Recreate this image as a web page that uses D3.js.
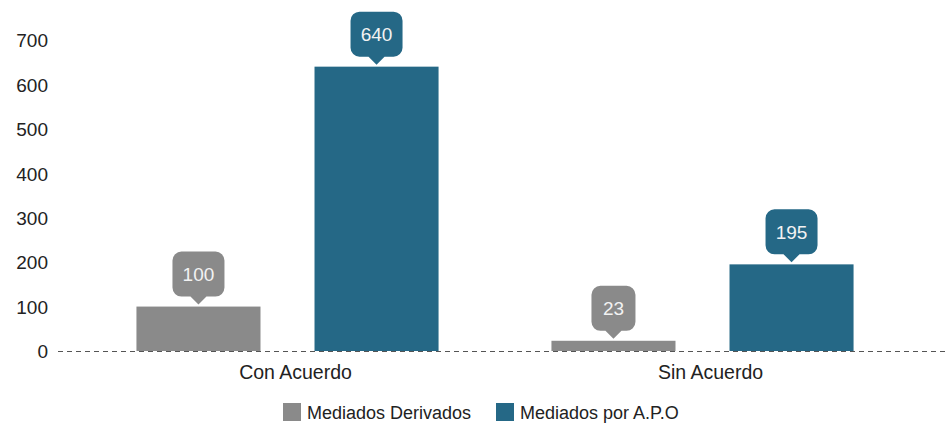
<!DOCTYPE html>
<html>
<head>
<meta charset="utf-8">
<script src="https://cdn.jsdelivr.net/npm/d3@7"></script>
<style>
  html, body { margin: 0; padding: 0; background: #fff; }
  svg text { font-family: "Liberation Sans", Arial, sans-serif; }
</style>
</head>
<body>
<svg id="chart" width="945" height="423"></svg>
<script>
const categories = ["Con Acuerdo", "Sin Acuerdo"];
const seriesNames = ["Mediados Derivados", "Mediados por A.P.O"];
const derivados = [100, 23];
const porAPO = [640, 195];
const yTicks = [0, 100, 200, 300, 400, 500, 600, 700];
const colors = ["#8a8a8a", "#256886"];

const seriesValues = [derivados, porAPO];
const data = categories.map((c, i) => ({
  category: c,
  values: seriesNames.map((s, j) => ({ series: s, value: seriesValues[j][i], idx: j }))
}));

const svg = d3.select("#chart");
const y = d3.scaleLinear().domain([0, 700]).range([351, 40]);
const x0 = d3.scaleBand().domain(categories).range([80, 910]).padding(0);
const x1 = d3.scaleBand().domain(seriesNames).range([0, x0.bandwidth()])
  .paddingInner(0.3034).paddingOuter(0.317);
const color = d3.scaleOrdinal().domain(seriesNames).range(colors);

// Y axis labels
const yAxis = d3.axisLeft(y).tickValues(yTicks).tickSize(0).tickPadding(0);
const yg = svg.append("g").attr("transform", "translate(48,0)").call(yAxis);
yg.select(".domain").remove();
yg.selectAll("text")
  .attr("font-size", 19)
  .attr("fill", "#222")
  .attr("font-family", "Liberation Sans, Arial, sans-serif")
  .attr("dy", "0.36em")
  .attr("x", 0);

// Bars
const groups = svg.append("g").selectAll("g").data(data).join("g")
  .attr("transform", d => `translate(${x0(d.category)},0)`);

groups.selectAll("rect").data(d => d.values).join("rect")
  .attr("x", d => x1(d.series))
  .attr("y", d => y(d.value))
  .attr("width", x1.bandwidth())
  .attr("height", d => y(0) - y(d.value))
  .attr("fill", d => color(d.series));

// Baseline dashed
svg.append("line")
  .attr("x1", 58).attr("x2", 945)
  .attr("y1", y(0) + 0.5).attr("y2", y(0) + 0.5)
  .attr("stroke", "#555").attr("stroke-width", 1)
  .attr("stroke-dasharray", "5,4");

// Callouts
const boxH = 45, gapTip = 2, triH = 8, triW = 8, radius = 9;
groups.selectAll("g.callout").data(d => d.values).join("g")
  .attr("class", "callout")
  .each(function(d) {
    const g = d3.select(this);
    const cx = x1(d.series) + x1.bandwidth() / 2;
    const tipY = y(d.value) - gapTip;
    const label = String(d.value);
    const w = label.length >= 3 ? 52 : 44;
    const by = tipY - triH - boxH;
    const bx = cx - w / 2;
    const r = radius;
    const p = d3.path();
    p.moveTo(bx + r, by);
    p.lineTo(bx + w - r, by);
    p.arcTo(bx + w, by, bx + w, by + r, r);
    p.lineTo(bx + w, by + boxH - r);
    p.arcTo(bx + w, by + boxH, bx + w - r, by + boxH, r);
    p.lineTo(cx + triW, by + boxH);
    p.lineTo(cx, tipY);
    p.lineTo(cx - triW, by + boxH);
    p.lineTo(bx + r, by + boxH);
    p.arcTo(bx, by + boxH, bx, by + boxH - r, r);
    p.lineTo(bx, by + r);
    p.arcTo(bx, by, bx + r, by, r);
    p.closePath();
    g.append("path").attr("d", p.toString()).attr("fill", color(d.series));
    g.append("text")
      .attr("x", cx)
      .attr("y", by + boxH / 2)
      .attr("dy", "0.36em")
      .attr("text-anchor", "middle")
      .attr("font-size", 19)
      .attr("fill", "#f2f2f2")
      .text(label);
  });

// Category labels
svg.append("g").selectAll("text").data(categories).join("text")
  .attr("x", d => x0(d) + x0.bandwidth() / 2 + 8)
  .attr("y", 379)
  .attr("text-anchor", "middle")
  .attr("font-size", 19.5)
  .attr("fill", "#222")
  .text(d => d);

// Legend
const legendX = [283, 496];
const lg = svg.append("g").selectAll("g").data(seriesNames).join("g")
  .attr("transform", (d, i) => `translate(${legendX[i]},0)`);
lg.append("rect").attr("x", 0).attr("y", 403).attr("width", 18).attr("height", 18)
  .attr("fill", d => color(d));
lg.append("text").attr("x", 24).attr("y", 419)
  .attr("font-size", 18).attr("fill", "#222")
  .text(d => d);
</script>
</body>
</html>
